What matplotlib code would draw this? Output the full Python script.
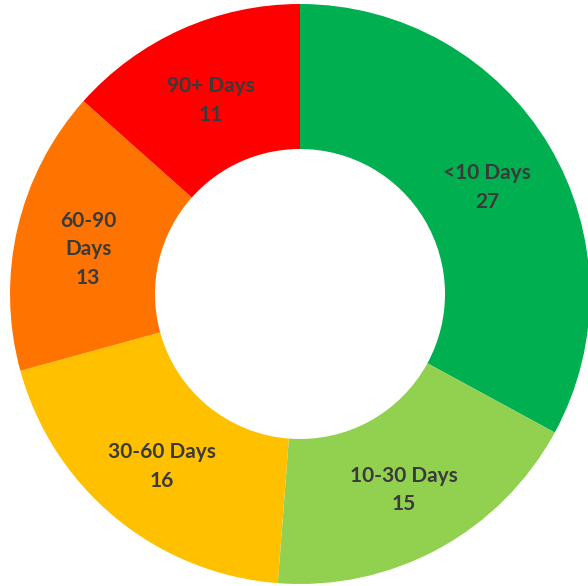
import matplotlib
matplotlib.use("Agg")
import matplotlib.pyplot as plt
import numpy as np

categories = ["<10 Days", "10-30 Days", "30-60 Days", "60-90 Days", "90+ Days"]
values = [27, 15, 16, 13, 11]
label_text = ["<10 Days", "10-30 Days", "30-60 Days", "60-90\nDays", "90+ Days"]
colors = ["#00B050", "#92D050", "#FFC000", "#FF7300", "#FF0000"]

W, H = 588, 586
fig = plt.figure(figsize=(W / 100, H / 100), dpi=100)
ax = fig.add_axes([0, 0, 1, 1])

R = 290.0
cx, cy = 300.0, 294.0

wedges, _ = ax.pie(values, colors=colors, startangle=90, counterclock=False,
                   radius=1.0, wedgeprops=dict(width=0.5, edgecolor="none"))

total = sum(values)
start = 90.0
for txt, v in zip(label_text, values):
    span = 360.0 * v / total
    mid = np.deg2rad(start - span / 2)
    start -= span
    r = 0.75
    ax.text(r * np.cos(mid), r * np.sin(mid) - 5 / R, f"{txt}\n{v}",
            ha="center", va="center", fontsize=15, fontweight="bold",
            family=["Lato", "DejaVu Sans"], color="#3a3a3a", linespacing=1.55)

ax.set_xlim(-cx / R, (W - cx) / R)
ax.set_ylim(-(H - cy) / R, cy / R)
ax.set_aspect("auto")
ax.axis("off")

fig.savefig("out.png", dpi=100, facecolor="white")
